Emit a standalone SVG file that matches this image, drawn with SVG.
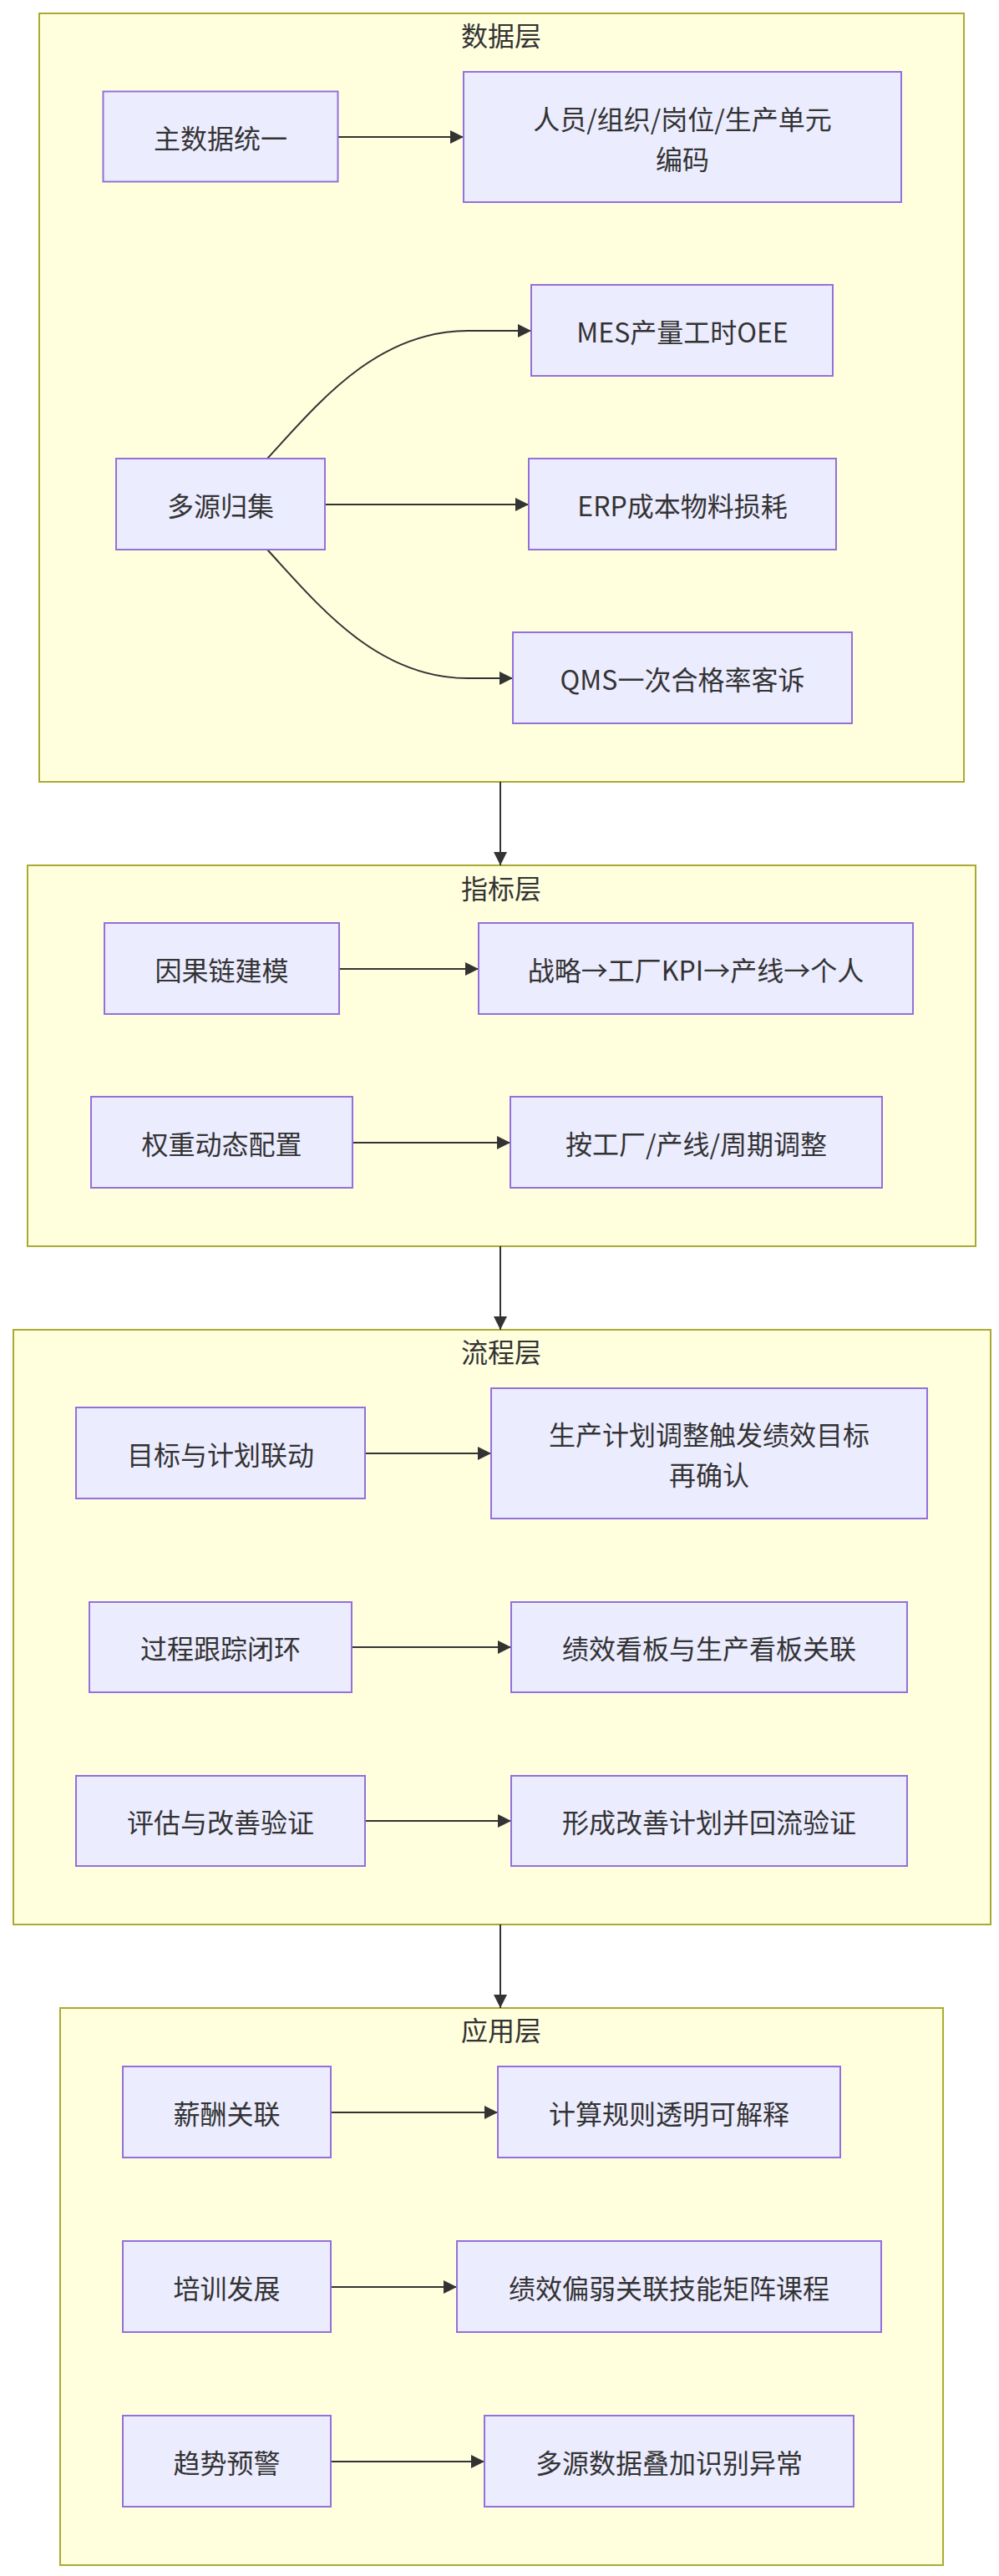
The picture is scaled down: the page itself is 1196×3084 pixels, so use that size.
<svg xmlns="http://www.w3.org/2000/svg" width="1196" height="3084" viewBox="0 0 1196 3084">
<style>
.cl{fill:#ffffde;stroke:#aaaa33;stroke-width:2}
.nd{fill:#ececff;stroke:#9370db;stroke-width:2}
.t{font-family:"Noto Sans CJK SC","Noto Sans",sans-serif;font-size:32px;fill:#333333;text-anchor:middle;dominant-baseline:central}
.e{fill:none;stroke:#333333;stroke-width:2}
</style>
<defs>
<marker id="ah" markerUnits="userSpaceOnUse" markerWidth="16" markerHeight="16" viewBox="0 0 16 16" refX="16" refY="8" orient="auto">
<path d="M0,0 L16,8 L0,16 z" fill="#333333"/>
</marker>
</defs>
<rect width="1196" height="3084" fill="#ffffff"/>

<g id="cluster-data">
<rect class="cl" x="47" y="16" width="1107" height="920"/>
<text class="t" x="600" y="41">数据层</text>
</g>
<g id="cluster-kpi">
<rect class="cl" x="33" y="1036" width="1135" height="456"/>
<text class="t" x="600" y="1062">指标层</text>
</g>
<g id="cluster-process">
<rect class="cl" x="16" y="1592" width="1170" height="712"/>
<text class="t" x="600" y="1617">流程层</text>
</g>
<g id="cluster-app">
<rect class="cl" x="72" y="2404" width="1057" height="667"/>
<text class="t" x="600" y="2429">应用层</text>
</g>

<g id="connectors">
<path class="e" d="M599,936 L599,1036" marker-end="url(#ah)"/>
<path class="e" d="M599,1492 L599,1592" marker-end="url(#ah)"/>
<path class="e" d="M599,2304 L599,2404" marker-end="url(#ah)"/>
<path class="e" d="M405,164 L555,164" marker-end="url(#ah)"/>
<path class="e" d="M320,549 C380,484 450,396 560,396 L636,396" marker-end="url(#ah)"/>
<path class="e" d="M389,604 L633,604" marker-end="url(#ah)"/>
<path class="e" d="M320,658 C380,723 450,812 560,812 L614,812" marker-end="url(#ah)"/>
<path class="e" d="M406,1160 L573,1160" marker-end="url(#ah)"/>
<path class="e" d="M422,1368 L611,1368" marker-end="url(#ah)"/>
<path class="e" d="M437,1740 L588,1740" marker-end="url(#ah)"/>
<path class="e" d="M421,1972 L612,1972" marker-end="url(#ah)"/>
<path class="e" d="M437,2180 L612,2180" marker-end="url(#ah)"/>
<path class="e" d="M396,2529 L596,2529" marker-end="url(#ah)"/>
<path class="e" d="M396,2738 L547,2738" marker-end="url(#ah)"/>
<path class="e" d="M396,2947 L580,2947" marker-end="url(#ah)"/>
</g>

<g id="n-master"><rect class="nd" x="123.5" y="109.5" width="281" height="108"/><text class="t" x="264" y="164">主数据统一</text></g>
<g id="n-codes"><rect class="nd" x="555" y="86" width="524" height="156"/><text class="t" x="817" y="141">人员/组织/岗位/生产单元</text><text class="t" x="817" y="189">编码</text></g>
<g id="n-mes"><rect class="nd" x="636" y="341" width="361" height="109"/><text class="t" x="817" y="396">MES产量工时OEE</text></g>
<g id="n-erp"><rect class="nd" x="633" y="549" width="368" height="109"/><text class="t" x="817" y="604">ERP成本物料损耗</text></g>
<g id="n-qms"><rect class="nd" x="614" y="757" width="406" height="109"/><text class="t" x="817" y="812">QMS一次合格率客诉</text></g>
<g id="n-multi"><rect class="nd" x="139" y="549" width="250" height="109"/><text class="t" x="264" y="604">多源归集</text></g>

<g id="n-causal"><rect class="nd" x="125" y="1105" width="281" height="109"/><text class="t" x="265.5" y="1160">因果链建模</text></g>
<g id="n-chain"><rect class="nd" x="573" y="1105" width="520" height="109"/><text class="t" x="833" y="1160">战略→工厂KPI→产线→个人</text></g>
<g id="n-weight"><rect class="nd" x="109" y="1313" width="313" height="109"/><text class="t" x="265.5" y="1368">权重动态配置</text></g>
<g id="n-adjust"><rect class="nd" x="611" y="1313" width="445" height="109"/><text class="t" x="833.5" y="1368">按工厂/产线/周期调整</text></g>

<g id="n-goal"><rect class="nd" x="91" y="1685" width="346" height="109"/><text class="t" x="264" y="1740">目标与计划联动</text></g>
<g id="n-reconfirm"><rect class="nd" x="588" y="1662" width="522" height="156"/><text class="t" x="849" y="1716">生产计划调整触发绩效目标</text><text class="t" x="849" y="1764">再确认</text></g>
<g id="n-track"><rect class="nd" x="107" y="1918" width="314" height="108"/><text class="t" x="264" y="1972">过程跟踪闭环</text></g>
<g id="n-board"><rect class="nd" x="612" y="1918" width="474" height="108"/><text class="t" x="849" y="1972">绩效看板与生产看板关联</text></g>
<g id="n-eval"><rect class="nd" x="91" y="2126" width="346" height="108"/><text class="t" x="264" y="2180">评估与改善验证</text></g>
<g id="n-improve"><rect class="nd" x="612" y="2126" width="474" height="108"/><text class="t" x="849" y="2180">形成改善计划并回流验证</text></g>

<g id="n-pay"><rect class="nd" x="147" y="2474" width="249" height="109"/><text class="t" x="271.5" y="2529">薪酬关联</text></g>
<g id="n-rules"><rect class="nd" x="596" y="2474" width="410" height="109"/><text class="t" x="801" y="2529">计算规则透明可解释</text></g>
<g id="n-train"><rect class="nd" x="147" y="2683" width="249" height="109"/><text class="t" x="271.5" y="2738">培训发展</text></g>
<g id="n-skill"><rect class="nd" x="547" y="2683" width="508" height="109"/><text class="t" x="801" y="2738">绩效偏弱关联技能矩阵课程</text></g>
<g id="n-trend"><rect class="nd" x="147" y="2892" width="249" height="109"/><text class="t" x="271.5" y="2947">趋势预警</text></g>
<g id="n-anomaly"><rect class="nd" x="580" y="2892" width="442" height="109"/><text class="t" x="801" y="2947">多源数据叠加识别异常</text></g>
</svg>
